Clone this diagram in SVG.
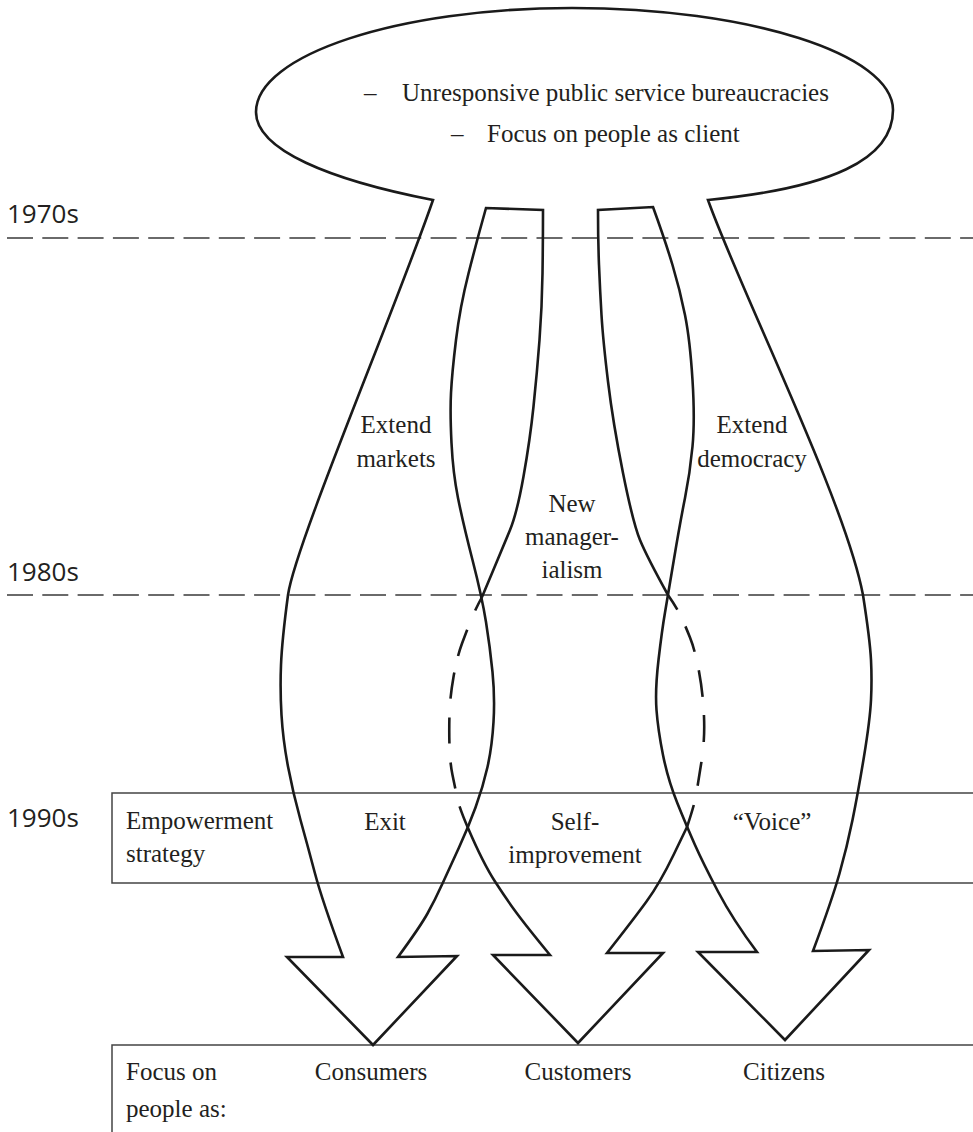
<svg xmlns="http://www.w3.org/2000/svg" width="973" height="1132" viewBox="0 0 973 1132">
<style>
.band{fill:none;stroke:#1a1a1a;stroke-width:2.6;stroke-linejoin:miter;stroke-linecap:butt}
.sep{fill:none;stroke:#3a3a3a;stroke-width:1.6;stroke-dasharray:26 9.3}
.box{fill:none;stroke:#444;stroke-width:1.5}
.yr{font-family:"Open Sans","Noto Sans",sans-serif;font-size:26px;fill:#231f20}
.t{font-family:"Liberation Serif","Times New Roman",serif;font-size:25px;fill:#231f20}
.c{text-anchor:middle}
</style>
<rect width="973" height="1132" fill="#fff"/>
<g id="periods">
<line class="sep" x1="7" y1="238" x2="973" y2="238"/>
<line class="sep" x1="7" y1="595" x2="973" y2="595"/>
<text class="yr" x="7" y="223">1970s</text>
<text class="yr" x="7" y="581">1980s</text>
<text class="yr" x="7" y="827">1990s</text>
</g>
<g id="empowerment-box">
<path class="box" d="M975,793 H112 V883 H975"/>
<text class="t" x="126" y="829">Empowerment</text>
<text class="t" x="126" y="862">strategy</text>
<text class="t c" x="385" y="830">Exit</text>
<text class="t c" x="575" y="830">Self-</text>
<text class="t c" x="575" y="863">improvement</text>
<text class="t c" x="772" y="830">“Voice”</text>
</g>
<g id="focus-box">
<path class="box" d="M975,1045 H112 V1135"/>
<text class="t" x="126" y="1080">Focus on</text>
<text class="t" x="126" y="1117">people as:</text>
<text class="t c" x="371" y="1080">Consumers</text>
<text class="t c" x="578" y="1080">Customers</text>
<text class="t c" x="784" y="1080">Citizens</text>
</g>
<g id="connectors">
<path class="band" d="M482,597 L492.5,572 Q503,547 510,530 Q517,513 523.5,476.5 Q530,440 533.5,406.5 Q537,373 539.5,340 Q542,307 542.5,273.5 Q543,240 543,210 L486,208 Q477,240 468.5,273.5 Q460,307 456,340 Q452,373 451,393 Q450,413 451.5,443 Q453,473 458,498 Q463,523 472.5,560 Q482,597 486,622 Q490,647 492.5,672 Q495,697 493.5,722 Q492,747 487.5,767 Q483,787 475.5,807.5 Q468,828 459,847.5 Q450,867 442.5,883.5 Q435,900 427.5,913.5 Q420,927 398,957 L457,956 L373,1045 L287,957 L343,957 Q322,900 315,873.5 Q308,847 300.5,820 Q293,793 288,766.5 Q283,740 281.5,715 Q280,690 281,665 Q282,640 288,595 C295,545 395,310 433,200 C330,180 256,150 256,112 C256,55 398,8 572,8 C749,8 893,54 893,110 C893,160 830,188 708,200 C740,290 845,500 863,595 Q870,640 871,660 Q872,680 871,700 Q870,720 864,756.5 Q858,793 852.5,820 Q847,847 839.5,873.5 Q832,900 813,951 L869,950 L785,1040 L698,952 L757,952 Q733,920 718,891.5 Q703,863 695,845 Q687,827 677.5,803.5 Q668,780 663,755 Q658,730 656.5,710 Q655,690 658.5,660 Q662,630 665,612.5 Q668,595 674,559 Q680,523 685,498 Q690,473 692.5,446.5 Q695,420 692.5,380 Q690,340 685,315 Q680,290 672.5,265 Q665,240 653,207 L598,210 Q598,240 599,265 Q600,290 601.5,315 Q603,340 608,381.5 Q613,423 623,473 Q633,523 640,540 Q647,557 668,595"/>
<path class="band" d="M468,828 Q483,863 495,881.5 Q507,900 517,913.5 Q527,927 550,955 L493,955 L578,1043 L663,953 L607,953 Q633,920 646.5,901.5 Q660,883 673.5,855 L687,827"/>
<path class="band" stroke-dasharray="15 21 28 17 26 19 26 19 26 19 60" d="M482,597 Q475,610 471,620 Q467,630 462,643.5 Q457,657 453.5,677 Q450,697 449.5,713.5 Q449,730 449.5,746.5 Q450,763 452.5,775 Q455,787 457,797 Q459,807 468,828"/>
<path class="band" stroke-dasharray="17 19 27 19 27 18 27 20 24 20 60" d="M668,595 Q677,608 681,616.5 Q685,625 690,637.5 Q695,650 699,671.5 Q703,693 704,716.5 Q705,740 701.5,761.5 Q698,783 696.5,793 Q695,803 687,827"/>
</g>
<g id="origin">
<text class="t" x="364" y="101">–</text>
<text class="t" x="402" y="101">Unresponsive public service bureaucracies</text>
<text class="t" x="451" y="142">–</text>
<text class="t" x="487" y="142">Focus on people as client</text>
</g>
<g id="routes">
<text class="t c" x="396" y="433">Extend</text>
<text class="t c" x="396" y="467">markets</text>
<text class="t c" x="572" y="512">New</text>
<text class="t c" x="572" y="545">manager-</text>
<text class="t c" x="572" y="578">ialism</text>
<text class="t c" x="752" y="433">Extend</text>
<text class="t c" x="752" y="467">democracy</text>
</g>
</svg>
